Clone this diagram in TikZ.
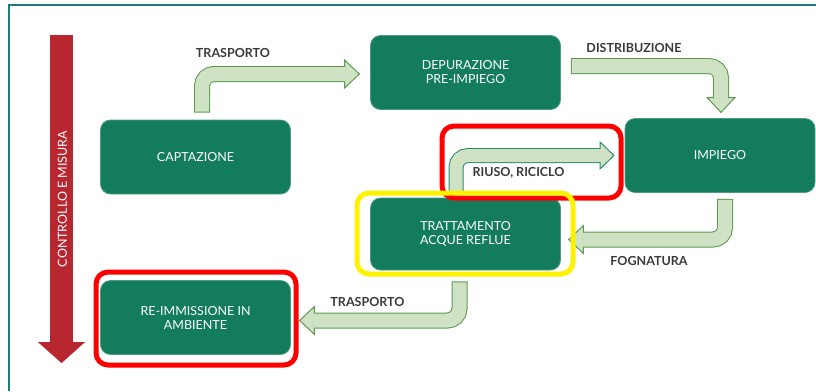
\documentclass[tikz,border=0pt]{standalone}
\usepackage{fontspec}
\setmainfont{Lato}
\usetikzlibrary{positioning, arrows.meta}
\definecolor{stagegreen}{HTML}{127C5D}
\definecolor{flowfill}{HTML}{CFE2C4}
\definecolor{flowborder}{HTML}{5E9A4E}
\definecolor{flowteal}{HTML}{2E8B6E}
\definecolor{ctrlred}{HTML}{B8262F}
\definecolor{framecol}{HTML}{1B7F78}
\definecolor{labelgray}{HTML}{3A3A3A}
\tikzset{
stage/.style={rounded corners=10pt, fill=stagegreen, draw=stagegreen!75!white, line width=0.8pt,
  minimum width=190pt, minimum height=74pt, align=center, text=white,
  font=\fontsize{12.5}{14}\selectfont}, % the green process boxes
flowline/.style={draw=flowborder, line width=16pt, rounded corners=12pt,
  -{Triangle[length=16pt, width=30pt, fill=flowfill, line width=1pt]}}, % outer layer of a block arrow
flowcore/.style={draw=flowfill, line width=14pt, rounded corners=12pt}, % inner layer of a block arrow
flowlabel/.style={text=labelgray, font=\bfseries\fontsize{12.5}{14}\selectfont},
ctrlarrow/.style={draw=ctrlred, line width=23pt, -{Triangle[length=21pt, width=47pt, line width=0.1pt]}},
highlight/.style={rounded corners=12pt, line width=5pt},
}
\begin{document}
\begin{tikzpicture}[x=1pt, y=-1pt]
    \useasboundingbox (0,0) rectangle (816,391);
    \draw[framecol, line width=2pt] (9,391) -- (9,5) -- (816,5);

    % process boxes
    \node[stage] (capt) at (195.5,157) {CAPTAZIONE};
    \node[stage] (depur) at (465.5,72.5) {DEPURAZIONE\\PRE-IMPIEGO};
    \node[stage] (impiego) at (720,155.5) {IMPIEGO};
    \node[stage, below of=depur, node distance=161.5pt, minimum height=72pt] (tratt) {TRATTAMENTO\\ACQUE REFLUE};
    \node[stage, below of=capt, node distance=160.5pt] (reimm) {RE-IMMISSIONE IN\\AMBIENTE};

    % block arrows between the boxes
    \draw[flowline, shorten <=7pt, shorten >=10pt] ([xshift=6.5pt]capt.north) |- ([yshift=-1.5pt]depur.west);
    \draw[flowcore, shorten <=8pt, shorten >=24.5pt] ([xshift=6.5pt]capt.north) |- ([yshift=-1.5pt]depur.west);
    \draw[flowline, shorten <=10pt, shorten >=5pt] ([yshift=6.5pt]depur.east) -| ([xshift=1pt]impiego.north);
    \draw[flowcore, shorten <=11pt, shorten >=19.5pt] ([yshift=6.5pt]depur.east) -| ([xshift=1pt]impiego.north);
    \draw[flowline, shorten <=6pt, shorten >=7pt] ([xshift=5pt]impiego.south) |- ([yshift=-5.5pt]tratt.east);
    \draw[flowcore, shorten <=7pt, shorten >=21.5pt] ([xshift=5pt]impiego.south) |- ([yshift=-5.5pt]tratt.east);
    \draw[flowline, shorten <=11pt, shorten >=8pt] ([xshift=-6pt]tratt.south) |- ([yshift=-3pt]reimm.east);
    \draw[flowcore, shorten <=12pt, shorten >=22.5pt] ([xshift=-6pt]tratt.south) |- ([yshift=-3pt]reimm.east);
    % reuse goes back to the use
    \draw[flowline, draw=flowteal, line width=15pt, shorten >=10pt,
      -{Triangle[length=15pt, width=29pt, fill=flowfill, line width=1pt]}] ([xshift=-9.5pt]tratt.north) |- (impiego.west);
    \draw[flowcore, line width=13pt, shorten <=1pt, shorten >=23.5pt] ([xshift=-9.5pt]tratt.north) |- (impiego.west);

    % control and measure along the whole chain
    \coordinate (ctrltop) at (61.5,35);
    \coordinate (ctrlend) at (61.5,363);
    \draw[ctrlarrow] (ctrltop) -- (ctrlend);
    \node[rotate=90, text=white, font=\fontsize{12.5}{14}\selectfont] (ctrllabel) at (62.5,199) {CONTROLLO E MISURA};

    % labels of the arrows
    \node[flowlabel] (trasporto) at (233,53) {TRASPORTO};
    \node[flowlabel] (distrib) at (634,48) {DISTRIBUZIONE};
    \node[flowlabel] (riuso) at (518.5,172.5) {RIUSO, RICICLO};
    \node[flowlabel] (fogna) at (649,261) {FOGNATURA};
    \node[flowlabel] (trasportob) at (367.5,302) {TRASPORTO};

    % highlighted parts
    \draw[highlight, red] (442,126) rectangle (621,198);
    \draw[highlight, yellow] (357,193) rectangle (573,274);
    \draw[highlight, red] (96,272) rectangle (296,365);
\end{tikzpicture}
\end{document}
